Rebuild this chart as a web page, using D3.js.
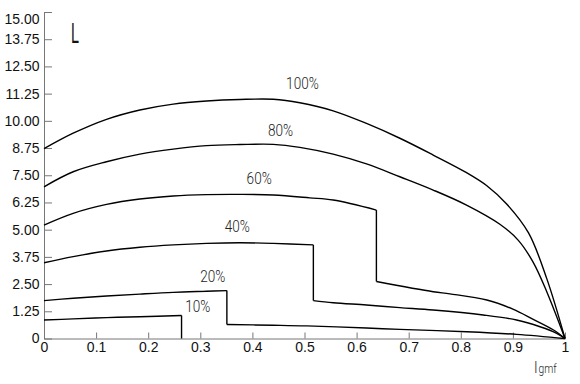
<!DOCTYPE html>
<html>
<head>
<meta charset="utf-8">
<script src="https://cdn.jsdelivr.net/npm/d3@7"></script>
<style>
  body { margin: 0; background: #fff; }
  .axis path, .axis line { stroke: #777; }
  .axis text { font-family: "Liberation Sans", Arial, sans-serif; font-size: 14px; fill: #111; }
  .lbl { font-family: Roboto, "Liberation Sans", sans-serif; font-weight: 300; fill: #222; }
</style>
</head>
<body>
<svg id="chart" width="580" height="384"></svg>
<script>
// curve names, as written on the chart
var names = ["100%", "80%", "60%", "40%", "20%", "10%"];

// x values of each curve (a repeated x is a vertical jump)
var xs100 = [0, 0.056, 0.12, 0.184, 0.248, 0.312, 0.376, 0.44, 0.491, 0.555, 0.619, 0.683, 0.747, 0.811, 0.85, 0.888, 0.93, 0.965, 1];
var ys100 = [8.72, 9.43, 10.07, 10.50, 10.77, 10.91, 10.98, 10.99, 10.83, 10.46, 9.88, 9.20, 8.43, 7.62, 7.02, 6.18, 4.85, 2.75, 0];

var xs80 = [0, 0.056, 0.12, 0.184, 0.248, 0.312, 0.376, 0.44, 0.491, 0.555, 0.619, 0.683, 0.747, 0.811, 0.875, 0.91, 0.939, 0.965, 1];
var ys80 = [6.97, 7.66, 8.12, 8.47, 8.70, 8.86, 8.91, 8.92, 8.78, 8.47, 8.02, 7.43, 6.82, 6.13, 5.25, 4.52, 3.50, 2.15, 0];

var xs60 = [0, 0.056, 0.12, 0.184, 0.248, 0.312, 0.376, 0.44, 0.51, 0.555, 0.638, 0.638, 0.747, 0.779, 0.85, 0.90, 0.939, 0.978, 1];
var ys60 = [5.21, 5.75, 6.16, 6.41, 6.55, 6.61, 6.62, 6.59, 6.46, 6.36, 5.90, 2.62, 2.15, 2.05, 1.77, 1.35, 0.88, 0.39, 0];

var xs40 = [0, 0.056, 0.12, 0.184, 0.248, 0.312, 0.376, 0.44, 0.517, 0.517, 0.555, 0.619, 0.683, 0.747, 0.843, 0.907, 0.952, 0.984, 1];
var ys40 = [3.48, 3.76, 4.02, 4.19, 4.30, 4.37, 4.40, 4.37, 4.30, 1.74, 1.64, 1.54, 1.42, 1.31, 1.08, 0.85, 0.54, 0.24, 0];

var xs20 = [0, 0.056, 0.12, 0.184, 0.248, 0.312, 0.351, 0.351, 0.44, 0.504, 0.619, 0.683, 0.811, 0.907, 1];
var ys20 = [1.74, 1.85, 1.95, 2.04, 2.12, 2.17, 2.20, 0.64, 0.61, 0.58, 0.48, 0.42, 0.31, 0.19, 0];

var xs10 = [0, 0.056, 0.12, 0.184, 0.264, 0.264];
var ys10 = [0.85, 0.90, 0.96, 1.00, 1.06, 0];

// where each curve name sits (x, baseline y in data units)
var labelX = [0.496, 0.454, 0.413, 0.371, 0.324, 0.295];
var labelY = [11.45, 9.31, 7.10, 4.90, 2.61, 1.23];

var yTicks = [0, 1.25, 2.5, 3.75, 5, 6.25, 7.5, 8.75, 10, 11.25, 12.5, 13.75, 15];
var xTicks = [0, 0.1, 0.2, 0.3, 0.4, 0.5, 0.6, 0.7, 0.8, 0.9, 1];

var svg = d3.select("#chart");
var x = d3.scaleLinear().domain([0, 1]).range([44, 565]);
var y = d3.scaleLinear().domain([0, 15]).range([338.5, 12]);

var series = [[xs100, ys100], [xs80, ys80], [xs60, ys60], [xs40, ys40], [xs20, ys20], [xs10, ys10]];

// axes: ticks point inward like the original
svg.append("g").attr("class", "axis")
    .attr("transform", "translate(0,338.5)")
    .call(d3.axisBottom(x).tickValues(xTicks).tickSizeInner(-6).tickSizeOuter(0).tickPadding(4)
	  .tickFormat(d => d == 0 || d == 1 ? String(d) : d3.format(".1f")(d)));

var yAxis = svg.append("g").attr("class", "axis")
    .attr("transform", "translate(44,0)")
    .call(d3.axisLeft(y).tickValues(yTicks).tickSizeInner(-8).tickSizeOuter(0).tickPadding(4.5)
	  .tickFormat(d => d == 0 ? "0" : d3.format(".2f")(d)));
// top label is pushed down so it is not cut off
yAxis.selectAll(".tick").filter(d => d == 15).select("text").attr("dy", "0.8em");

var smooth = d3.line().x(p => x(p[0])).y(p => y(p[1])).curve(d3.curveCatmullRom.alpha(0.5));

series.forEach(function(s) {
    var pts = s[0].map((v, i) => [v, s[1][i]]);
    // split into runs where x keeps increasing
    var runs = [[pts[0]]];
    for (var i = 1; i < pts.length; i++) {
	if (pts[i][0] == pts[i-1][0]) runs.push([pts[i]]);
	else runs[runs.length-1].push(pts[i]);
    }
    runs.forEach(function(r, k) {
	if (r.length > 1)
	    svg.append("path").attr("d", smooth(r))
		.attr("fill", "none").attr("stroke", "#000").attr("stroke-width", 1.4);
	if (k > 0) {
	    var a = runs[k-1][runs[k-1].length-1];
	    svg.append("line")
		.attr("x1", x(a[0])).attr("y1", y(a[1]))
		.attr("x2", x(r[0][0])).attr("y2", y(r[0][1]))
		.attr("stroke", "#000").attr("stroke-width", 1.4);
	}
    });
});

// curve names
names.forEach(function(n, i) {
    svg.append("text").attr("class", "lbl")
	.attr("transform", "translate(" + x(labelX[i]) + "," + y(labelY[i]) + ") scale(0.8,1)")
	.attr("text-anchor", "middle")
	.style("font-size", "17px")
	.text(n);
});

// axis names
svg.append("text")
    .attr("transform", "translate(71,43) scale(0.5,1)")
    .style("font-family", "'Liberation Sans', sans-serif")
    .style("font-size", "29px")
    .style("fill", "#111")
    .text("L");

var xl = svg.append("text").attr("class", "lbl")
    .attr("transform", "translate(534,373) scale(0.85,1)");
xl.append("tspan").style("font-size", "16px").text("I");
xl.append("tspan").style("font-size", "12px").attr("dx", "1").text("gmf");
</script>
</body>
</html>
